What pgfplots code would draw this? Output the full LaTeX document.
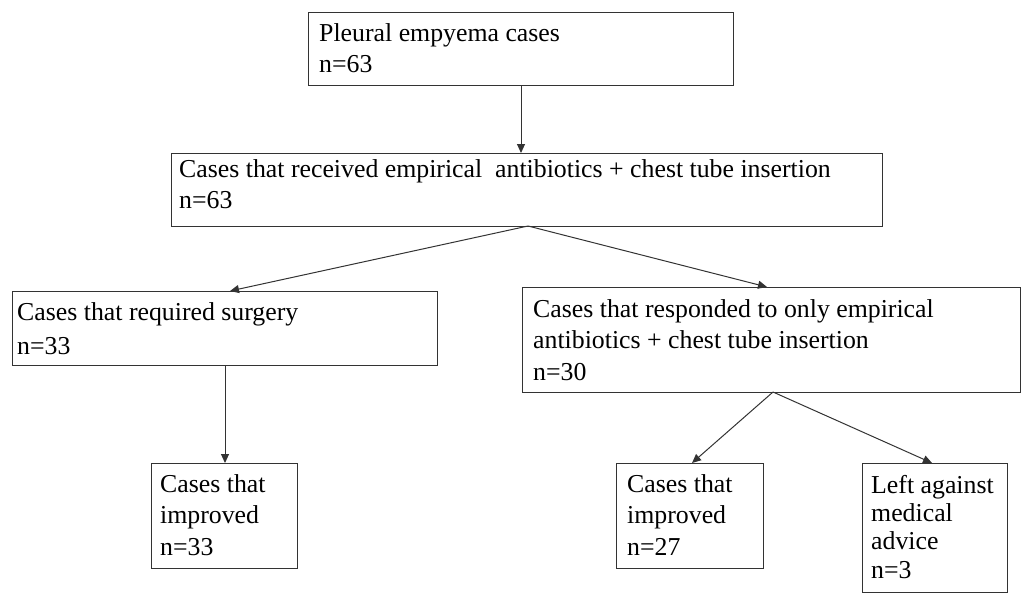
\documentclass[border=0pt]{standalone}
\usepackage{pgfplots}
\pgfplotsset{compat=1.18}
\usepackage{fontspec}
\setmainfont{Liberation Serif}
\usetikzlibrary{arrows.meta}
\begin{document}
\begin{tikzpicture}
\begin{axis}[
  scale only axis, width=1026bp, height=604bp,
  xmin=0, xmax=1026, ymin=0, ymax=604, y dir=reverse,
  axis lines=none, clip=false,
]
\tikzset{
  ln/.style={line width=1bp, draw=black!80, solid, mark=none},
  ar/.style={ln, -{Triangle[length=9bp,width=8bp]}},
  t/.style={anchor=base west, inner sep=0pt, font=\fontsize{25.9}{31}\selectfont, text=black}
}
\path (rel axis cs:0,0) rectangle (rel axis cs:1,1);
% boxes
\addplot[ln] coordinates {(308,13) (733,13) (733,86) (308,86) (308,13)};
\addplot[ln] coordinates {(171,153) (882,153) (882,226) (171,226) (171,153)};
\addplot[ln] coordinates {(12,291) (437,291) (437,365) (12,365) (12,291)};
\addplot[ln] coordinates {(522,287) (1020,287) (1020,392) (522,392) (522,287)};
\addplot[ln] coordinates {(151,463) (297,463) (297,568) (151,568) (151,463)};
\addplot[ln] coordinates {(616,463) (763,463) (763,568) (616,568) (616,463)};
\addplot[ln] coordinates {(862,463) (1007,463) (1007,592) (862,592) (862,463)};
% arrows
\addplot[ar] coordinates {(521,86) (521,153)};
\addplot[ar] coordinates {(528,226) (230,291)};
\addplot[ar] coordinates {(528,226) (767,287)};
\addplot[ar] coordinates {(225,365) (225,463)};
\addplot[ar] coordinates {(773,392) (692,463)};
\addplot[ar] coordinates {(773,392) (932,463)};
% texts
\node[t] at (axis cs:319,42) {Pleural empyema cases};
\node[t] at (axis cs:319,73) {n=63};
\node[t] at (axis cs:179,177) {Cases that received empirical\ \ antibiotics + chest tube insertion};
\node[t] at (axis cs:179,208) {n=63};
\node[t] at (axis cs:17,320) {Cases that required surgery};
\node[t] at (axis cs:17,354) {n=33};
\node[t] at (axis cs:533,317) {Cases that responded to only empirical};
\node[t] at (axis cs:533,348) {antibiotics + chest tube insertion};
\node[t] at (axis cs:533,380) {n=30};
\node[t] at (axis cs:160,492) {Cases that};
\node[t] at (axis cs:160,523) {improved};
\node[t] at (axis cs:160,555) {n=33};
\node[t] at (axis cs:627,492) {Cases that};
\node[t] at (axis cs:627,523) {improved};
\node[t] at (axis cs:627,555) {n=27};
\node[t] at (axis cs:871,493) {Left against};
\node[t] at (axis cs:871,521) {medical};
\node[t] at (axis cs:871,549) {advice};
\node[t] at (axis cs:871,578) {n=3};
\end{axis}
\end{tikzpicture}
\end{document}
